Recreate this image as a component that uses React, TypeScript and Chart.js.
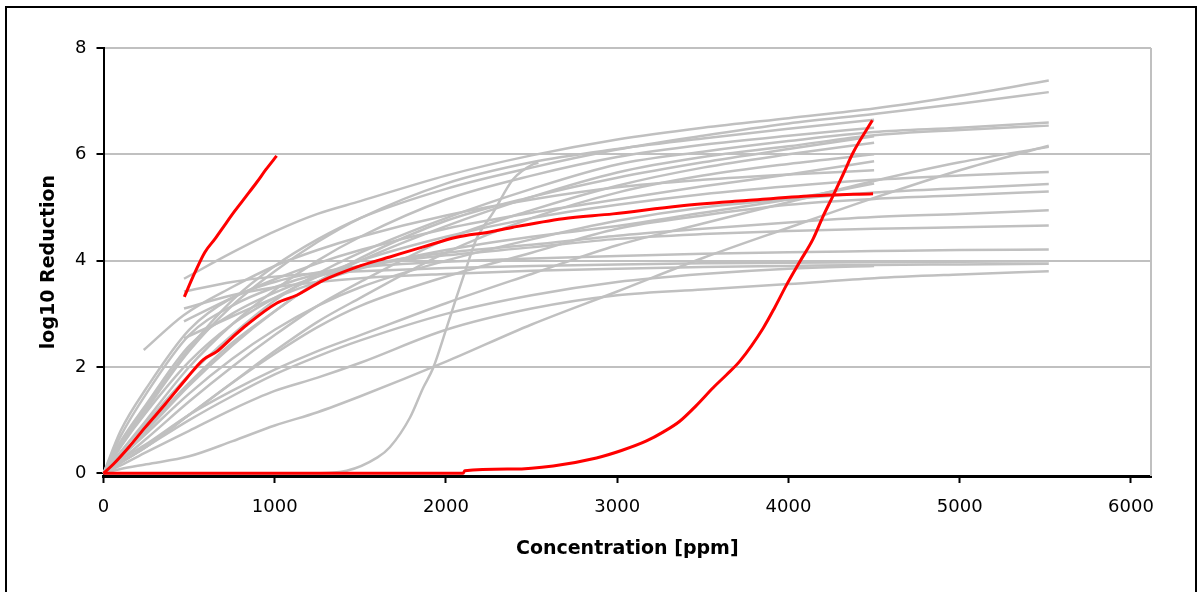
import React, { useEffect, useRef } from "react";
import { Chart, registerables } from "chart.js";
Chart.register(...registerables);

// ---- axis ticks ----
const xTickValues = [0, 1000, 2000, 3000, 4000, 5000, 6000];
const yTickValues = [0, 2, 4, 6, 8];

// ---- shared x grids for gray curves ----
const xsOrigin = [0, 100, 250, 500, 750, 1000, 1250, 1500, 2000, 2500, 3000, 3500, 4000, 4500, 5000, 5520];
const xsLate = [470, 750, 1000, 1250, 1500, 2000, 2500, 3000, 3500, 4000, 4500, 5000, 5520];
const xsEarly = [235, 470, 750, 1000, 1250, 1500, 2000, 2500, 3000, 3500, 4000, 4500];

// curves starting at origin, running to ~5520
const gA2 = [0, 0.55, 1.25, 2.35, 3.25, 3.9, 4.4, 4.8, 5.35, 5.75, 6.09, 6.35, 6.58, 6.76, 6.95, 7.17];
const gA3 = [0, 0.4, 0.95, 1.85, 2.6, 3.25, 3.75, 4.15, 4.8, 5.35, 5.81, 6.05, 6.25, 6.42, 6.5, 6.6];
const gA4 = [0, 0.35, 0.85, 1.7, 2.45, 3.05, 3.6, 4.0, 4.65, 5.2, 5.66, 5.95, 6.15, 6.36, 6.46, 6.54];
const gA5 = [0, 0.08, 0.17, 0.32, 0.6, 0.9, 1.15, 1.45, 2.1, 2.8, 3.42, 4.05, 4.62, 5.18, 5.7, 6.16];
const gA6 = [0, 0.25, 0.55, 1.1, 1.55, 1.95, 2.3, 2.6, 3.2, 3.75, 4.29, 4.7, 5.1, 5.5, 5.85, 6.14];
const gA7 = [0, 0.5, 1.15, 2.1, 2.8, 3.3, 3.7, 4.0, 4.45, 4.8, 5.05, 5.25, 5.4, 5.52, 5.6, 5.67];
const gA8 = [0, 0.3, 0.75, 1.5, 2.15, 2.7, 3.15, 3.5, 4.0, 4.4, 4.75, 5.0, 5.15, 5.28, 5.36, 5.44];
const gA9 = [0, 0.2, 0.5, 1.1, 1.7, 2.25, 2.75, 3.15, 3.7, 4.15, 4.6, 4.85, 5.05, 5.16, 5.23, 5.3];
const gA10 = [0, 0.6, 1.3, 2.4, 3.0, 3.4, 3.7, 3.9, 4.15, 4.3, 4.47, 4.6, 4.72, 4.82, 4.88, 4.95];
const gA11 = [0, 0.7, 1.5, 2.6, 3.15, 3.5, 3.75, 3.9, 4.1, 4.25, 4.41, 4.5, 4.56, 4.6, 4.63, 4.66];
const gA12 = [0, 0.8, 1.6, 2.7, 3.3, 3.6, 3.78, 3.88, 3.98, 4.04, 4.09, 4.13, 4.16, 4.18, 4.2, 4.21];
const gL2 = [0, 0.15, 0.4, 0.8, 1.2, 1.55, 1.8, 2.08, 2.7, 3.1, 3.35, 3.46, 3.56, 3.67, 3.74, 3.8];
// curves starting at origin, ending at 4500
const gB1 = [0, 0.5, 1.2, 2.3, 3.15, 3.8, 4.35, 4.8, 5.45, 5.85, 6.1, 6.3, 6.48, 6.65];
const gB2 = [0, 0.4, 1.0, 2.0, 2.8, 3.45, 4.0, 4.45, 5.15, 5.6, 5.95, 6.18, 6.35, 6.5];
const gB3 = [0, 0.3, 0.8, 1.65, 2.4, 3.05, 3.6, 4.05, 4.75, 5.2, 5.56, 5.85, 6.1, 6.34];
const gB4 = [0, 0.25, 0.65, 1.35, 2.0, 2.6, 3.15, 3.6, 4.4, 4.95, 5.41, 5.75, 6.0, 6.22];
const gB5 = [0, 0.2, 0.5, 1.1, 1.7, 2.3, 2.85, 3.3, 4.15, 4.8, 5.28, 5.6, 5.82, 6.0];
const gC1 = [0, 0.2, 0.5, 1.0, 1.45, 1.86, 2.2, 2.5, 3.0, 3.35, 3.6, 3.75, 3.85, 3.9];
// curves starting at ~470
const gS1 = [3.66, 4.15, 4.55, 4.88, 5.12, 5.6, 5.98, 6.28, 6.5, 6.68, 6.86, 7.1, 7.39];
const gS2 = [3.42, 3.6, 3.7, 3.76, 3.8, 3.86, 3.9, 3.93, 3.95, 3.96, 3.97, 3.98, 3.99];
const gS3 = [3.1, 3.35, 3.5, 3.6, 3.67, 3.75, 3.81, 3.85, 3.88, 3.9, 3.92, 3.93, 3.94];
const gS4 = [2.86, 3.3, 3.65, 3.95, 4.2, 4.6, 4.9, 5.15, 5.4, 5.62, 5.87];
const gS5 = [2.54, 2.95, 3.3, 3.6, 3.85, 4.2, 4.45, 4.65, 4.9, 5.15, 5.45];
// curve starting at ~235
const gE1 = [2.32, 2.98, 3.5, 3.9, 4.2, 4.45, 4.85, 5.15, 5.38, 5.52, 5.62, 5.7];
// steep late-rising gray curve
const gTX = [0, 1200, 1420, 1600, 1672, 1790, 1867, 1925, 2003, 2060, 2120, 2178, 2276, 2392, 2507, 2540];
const gTY = [0, 0, 0.05, 0.3, 0.49, 1.05, 1.61, 1.98, 2.73, 3.3, 3.88, 4.41, 4.91, 5.53, 5.81, 5.84];

// ---- red curves ----
const red1X = [472, 530, 592, 651, 710, 768, 830, 894, 950, 1011];
const red1Y = [3.32, 3.75, 4.16, 4.41, 4.68, 4.94, 5.2, 5.47, 5.72, 5.97];
const red2X = [0, 57, 150, 242, 360, 486, 583, 661, 750, 836, 1011, 1128, 1283, 1478, 1672, 1867, 2062, 2256, 2392, 2684, 2976, 3365, 3755, 4144, 4494];
const red2Y = [0, 0.17, 0.5, 0.86, 1.3, 1.79, 2.14, 2.29, 2.55, 2.79, 3.2, 3.35, 3.63, 3.88, 4.07, 4.26, 4.44, 4.54, 4.63, 4.79, 4.88, 5.03, 5.13, 5.22, 5.26];
const red3X = [0, 1000, 2100, 2110, 2390, 2626, 2879, 3025, 3171, 3270, 3365, 3460, 3560, 3640, 3716, 3852, 3920, 3988, 4066, 4144, 4200, 4260, 4320, 4377, 4490];
const red3Y = [0, 0, 0, 0.05, 0.08, 0.14, 0.29, 0.43, 0.61, 0.78, 0.98, 1.27, 1.61, 1.86, 2.11, 2.73, 3.12, 3.54, 3.98, 4.41, 4.82, 5.22, 5.63, 6.03, 6.64];

const grayCurves: [number[], number[]][] = [
  [xsOrigin, gA2], [xsOrigin, gA3], [xsOrigin, gA4], [xsOrigin, gA5], [xsOrigin, gA6],
  [xsOrigin, gA7], [xsOrigin, gA8], [xsOrigin, gA9], [xsOrigin, gA10], [xsOrigin, gA11],
  [xsOrigin, gA12], [xsOrigin, gL2], [xsOrigin, gB1], [xsOrigin, gB2], [xsOrigin, gB3],
  [xsOrigin, gB4], [xsOrigin, gB5], [xsOrigin, gC1], [xsLate, gS1], [xsLate, gS2],
  [xsLate, gS3], [xsLate, gS4], [xsLate, gS5], [xsEarly, gE1], [gTX, gTY],
];
const redCurves: [number[], number[]][] = [[red1X, red1Y], [red2X, red2Y], [red3X, red3Y]];

const GRAY = "#c0c0c0";
const RED = "#ff0000";
const FONT = "'DejaVu Sans', sans-serif";

const toPts = (xs: number[], ys: number[]) => ys.map((y, i) => ({ x: xs[i], y }));

const plotBorder = {
  id: "plotBorder",
  beforeDatasetsDraw(chart: any) {
    const { ctx, chartArea } = chart;
    ctx.save();
    ctx.strokeStyle = GRAY;
    ctx.lineWidth = 2;
    ctx.beginPath();
    ctx.moveTo(chartArea.right, chartArea.top);
    ctx.lineTo(chartArea.right, chartArea.bottom);
    ctx.stroke();
    ctx.restore();
  },
};

export default function App() {
  const ref = useRef<HTMLCanvasElement>(null);
  useEffect(() => {
    const canvas = ref.current!;
    const datasets: any[] = [];
    redCurves.forEach(([xs, ys]) =>
      datasets.push({
        type: "line",
        data: toPts(xs, ys),
        borderColor: RED,
        borderWidth: 3,
        pointRadius: 0,
        tension: 0.4,
        cubicInterpolationMode: "monotone",
        clip: false,
        order: 0,
      })
    );
    grayCurves.forEach(([xs, ys]) =>
      datasets.push({
        type: "line",
        data: toPts(xs, ys),
        borderColor: GRAY,
        borderWidth: 2.5,
        pointRadius: 0,
        tension: 0.4,
        cubicInterpolationMode: "monotone",
        clip: false,
        order: 1,
      })
    );
    const chart = new Chart(canvas, {
      type: "line",
      data: { datasets },
      plugins: [plotBorder],
      options: {
        animation: false,
        responsive: false,
        events: [],
        layout: { padding: { left: 0, top: 48, right: 46, bottom: 0 } },
        plugins: { legend: { display: false }, tooltip: { enabled: false } },
        scales: {
          x: {
            type: "linear",
            min: 0,
            max: 6117,
            afterBuildTicks: (s: any) => {
              s.ticks = xTickValues.map((v) => ({ value: v }));
            },
            afterFit: (s: any) => {
              s.height = 116;
            },
            ticks: {
              font: { family: FONT, size: 18 },
              color: "#000",
              padding: 14,
              maxRotation: 0,
              autoSkip: false,
              callback: (v: any) => String(v),
            },
            grid: { drawOnChartArea: false, drawTicks: true, tickLength: 7, tickColor: "#000", tickWidth: 2, z: -2 },
            border: { color: "#000", width: 3, z: -1 },
            title: {
              display: true,
              text: "Concentration [ppm]",
              color: "#000",
              font: { family: FONT, size: 19, weight: "bold" },
              padding: { top: 0, bottom: 32 },
            },
          },
          y: {
            type: "linear",
            min: -0.05,
            max: 8,
            afterBuildTicks: (s: any) => {
              s.ticks = yTickValues.map((v) => ({ value: v }));
            },
            afterFit: (s: any) => {
              s.width = 103.5;
            },
            ticks: { font: { family: FONT, size: 18 }, color: "#000", padding: 10, callback: (v: any) => String(v) },
            grid: {
              color: (c: any) => (c.tick && c.tick.value === 0 ? "rgba(0,0,0,0)" : GRAY),
              lineWidth: 2,
              tickLength: 7,
              tickColor: "#000",
              tickWidth: 2,
              z: -2,
            },
            border: { color: "#000", width: 2, z: -1 },
            title: {
              display: true,
              text: "log10 Reduction",
              color: "#000",
              font: { family: FONT, size: 19, weight: "bold" },
              padding: { top: 38, bottom: 0 },
            },
          },
        },
      } as any,
    });
    return () => chart.destroy();
  }, []);
  return (
    <div style={{ position: "fixed", left: 0, top: 0, width: 1197, height: 592, overflow: "hidden", background: "#fff" }}>
      <canvas ref={ref} width={1197} height={592} style={{ position: "absolute", left: 0, top: 0, width: 1197, height: 592 }} />
      <div style={{ position: "absolute", left: 5, top: 6, width: 1188, height: 700, border: "2px solid #000", pointerEvents: "none" }} />
    </div>
  );
}
